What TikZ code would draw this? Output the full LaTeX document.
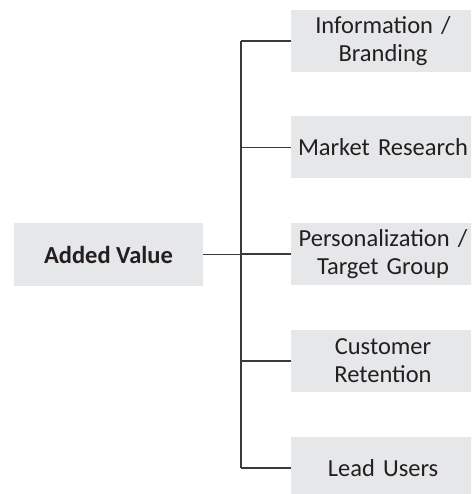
\documentclass[tikz,border=0pt]{standalone}
\usepackage{fontspec}
\setmainfont{Carlito}
\begin{document}
\begin{tikzpicture}[x=1pt,y=-1pt,
  box/.style={fill=boxgray,draw=none,inner sep=0pt,align=center,text=txt,
    font=\fontsize{24.5}{28}\selectfont},
  leaf/.style={box,minimum width=184pt,minimum height=62pt,text width=184pt},
  conn/.style={draw=linegray,line width=1.1pt}]
\definecolor{boxgray}{HTML}{E6E7E9}
\definecolor{txt}{HTML}{231F20}
\definecolor{linegray}{HTML}{3A3A3A}
\useasboundingbox (0,0) rectangle (471,494);
\clip (0,0) rectangle (471,494);
\node[box,minimum width=189pt,minimum height=63pt,font=\fontsize{24.5}{28}\selectfont\bfseries] (root) at (108.5,254.5) {Added Value};
\node[leaf] (b1) at (383,41) {Information /\\Branding};
\node[leaf] (b2) at (383,147.5) {Market Research};
\node[leaf] (b3) at (383,254) {Personalization /\\Target Group};
\node[leaf] (b4) at (383,361) {Customer\\Retention};
\node[leaf] (b5) at (383,468) {Lead Users};
\coordinate (t1) at (241,41);
\coordinate (t5) at (241,468);
\draw[conn] (t1) -- (t5);
\foreach \b in {b1,b2,b3,b4,b5}{
  \draw[conn] (\b.west) -- (241,0 |- \b.west);
}
\draw[conn] (root.east) -- (241,0 |- root.east);
\end{tikzpicture}
\end{document}
